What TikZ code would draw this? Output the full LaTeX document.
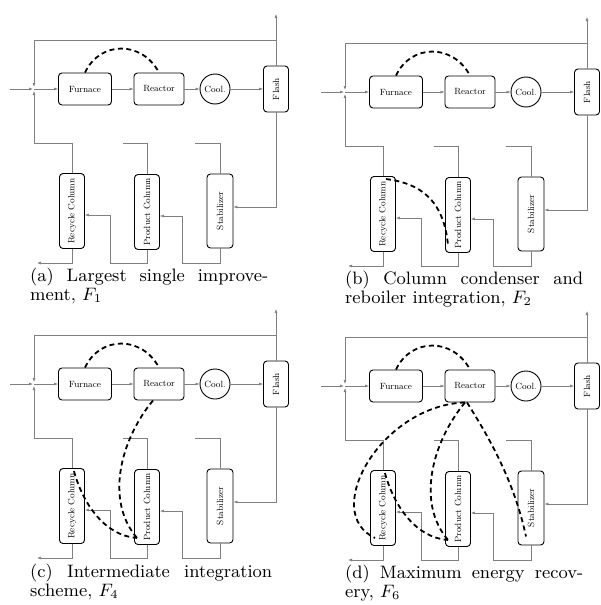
\documentclass[tikz,border=0pt]{standalone}
\usetikzlibrary{arrows.meta,calc}
\tikzset{
  unit/.style={draw=black, line width=0.9pt, rounded corners=3.5pt, inner sep=0pt, font=\fontsize{9}{10}\selectfont},
  cooler/.style={draw=black, line width=0.9pt, circle, minimum size=30pt, inner sep=0pt, font=\fontsize{9}{10}\selectfont},
  proc/.style={draw=black!50, line width=0.6pt},
  flow/.style={proc, -{Latex[length=4pt,width=3pt]}},
  heat/.style={draw=black, line width=1.8pt, dash pattern=on 5pt off 3.5pt},
  captext/.style={inner sep=0pt, anchor=base west},
}
\newcommand\captline[2]{\scalebox{2}{\fontsize{9}{10}\selectfont\makebox[#1][s]{#2}}}
\newcommand\captplain[1]{\scalebox{2}{\fontsize{9}{10}\selectfont #1}}
\newcommand\hdapanel[1]{%
  \coordinate (#1feed) at (10,89);
  \coordinate (#1mix) at (34,89);
  \coordinate (#1purge) at (276,14);
  \node[unit, minimum width=53pt, minimum height=32pt] (#1fur) at (85,89) {Furnace};
  \node[unit, minimum width=50pt, minimum height=32pt] (#1rea) at (159,89) {Reactor};
  \node[cooler] (#1cool) at (215,89) {Cool.};
  \node[unit, minimum width=25pt, minimum height=46pt] (#1fla) at (276,89) {\rotatebox{90}{Flash}};
  \node[unit, minimum width=25pt, minimum height=75pt] (#1rec) at (72,211) {\rotatebox{90}{Recycle Column}};
  \node[unit, minimum width=25pt, minimum height=75pt] (#1pro) at (147,212) {\rotatebox{90}{Product Column}};
  \node[unit, minimum width=26pt, minimum height=74pt] (#1sta) at (220,211) {\rotatebox{90}{Stabilizer}};
  \draw[flow] (#1feed) -- ($(#1mix)+(-1,0)$);
  \draw[flow] (#1mix) -- (#1fur.west);
  \draw[flow] (#1fur.east) -- (#1rea.west);
  \draw[flow] (#1rea.east) -- (#1cool.west);
  \draw[flow] (#1cool.east) -- (#1fla.west);
  \draw[flow] (#1fla.north) -- (#1purge);
  \draw[flow] (#1fla.north |- 0,40) -| ($(#1mix)+(0,-2)$);
  \draw[flow] (#1rec.north) |- (34,143) -- ($(#1mix)+(0,2)$);
  \draw[proc] (#1pro.north) |- (123,143);
  \draw[proc] (#1sta.north) |- (195,143);
  \draw[flow] (#1rec.south) |- (37,263);
  \draw[flow] (#1pro.south) |- (110,263) |- ([yshift=-4pt]#1rec.east);
  \draw[flow] (#1sta.south) |- (182,263) |- ([yshift=-4pt]#1pro.east);
  \draw[flow] (#1fla.south) |- ([yshift=4pt]#1sta.east);
  \draw[heat] (#1fur.north) .. controls +(15,-32) and +(-17,-32) .. (#1rea.north);
}
\begin{document}
\begin{tikzpicture}[x=1pt,y=-1pt]
\useasboundingbox (0,0) rectangle (600,605);
% (a)
\begin{scope}
  \hdapanel{a}
\end{scope}
\node[captext] (capa1) at (30,281) {\captline{119pt}{(a) Largest single improve-}};
\node[captext] (capa2) at (30,300) {\captplain{ment, $F_1$}};
% (b)
\begin{scope}[shift={(311,3)}]
  \hdapanel{b}
  \draw[heat] ($(brec.north east)+(-10,3)$) .. controls +(33,4) and +(-4,-47) .. ($(bpro.south west)+(3,-7)$);
\end{scope}
\node[captext] (capb1) at (345,284) {\captline{119pt}{(b) Column condenser and}};
\node[captext] (capb2) at (345,303) {\captplain{reboiler integration, $F_2$}};
% (c)
\begin{scope}[shift={(0,295)}]
  \hdapanel{c}
  \draw[heat] ($(crea.south)+(-6,0)$) .. controls +(-33,40) and +(-32,-37) .. ($(cpro.south west)+(3,-7)$);
  \draw[heat] ($(crec.north east)+(-11,3)$) .. controls +(9,33) and +(-32,-2) .. ($(cpro.south west)+(3,-7)$);
\end{scope}
\node[captext] (capc1) at (30,577) {\captline{121pt}{(c) Intermediate integration}};
\node[captext] (capc2) at (30,596) {\captplain{scheme, $F_4$}};
% (d)
\begin{scope}[shift={(311,297)}]
  \hdapanel{d}
  \draw[heat] ($(drea.south)+(-5,0)$) .. controls +(-84,3) and +(-55,-25) .. ($(drec.south west)+(5,-8)$);
  \draw[heat] ($(drea.south)+(-5,0)$) .. controls +(-33,40) and +(-32,-37) .. ($(dpro.south west)+(3,-7)$);
  \draw[heat] ($(drea.south)+(-3,0)$) .. controls +(22,35) and +(-12,-56) .. ($(dsta.south)+(-5,-9)$);
  \draw[heat] ($(drec.north east)+(-11,3)$) .. controls +(9,33) and +(-32,-2) .. ($(dpro.south west)+(3,-7)$);
\end{scope}
\node[captext] (capd1) at (345,578) {\captline{119pt}{(d) Maximum energy recov-}};
\node[captext] (capd2) at (345,597) {\captplain{ery, $F_6$}};
\end{tikzpicture}
\end{document}
